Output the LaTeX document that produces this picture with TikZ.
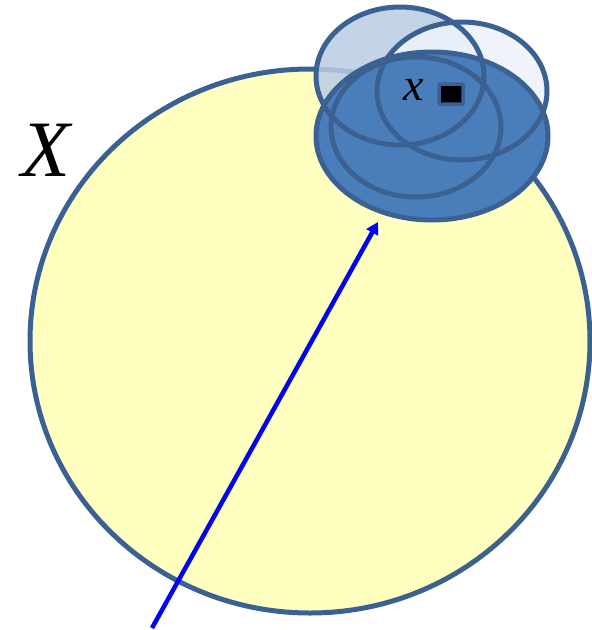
\documentclass[tikz,border=0pt]{standalone}
\usepackage{fontspec}
\setmainfont{Liberation Serif}
\usetikzlibrary{arrows.meta}
\definecolor{edge}{HTML}{3B6193}
\definecolor{yel}{HTML}{FFFFC0}
\definecolor{dblue}{HTML}{4A7EBB}
\definecolor{lblue}{HTML}{B9CDE5}
\definecolor{vlblue}{HTML}{EEF3FA}
\tikzset{outl/.style={draw=edge,line width=5pt}}
\begin{document}
\begin{tikzpicture}[x=1pt,y=-1pt]
\useasboundingbox (0,0) rectangle (592,630);
\fill[yel] (310,341) ellipse [x radius=280,y radius=272];
\draw[outl] (310,341) ellipse [x radius=280,y radius=272];
\fill[lblue,fill opacity=0.85] (400,76) ellipse [x radius=84,y radius=69];
\fill[vlblue,fill opacity=0.9] (462,91) ellipse [x radius=85,y radius=69];
\fill[dblue] (432,136) ellipse [x radius=116,y radius=84];
\draw[outl] (400,76) ellipse [x radius=84,y radius=69];
\draw[outl] (462,91) ellipse [x radius=85,y radius=69];
\draw[outl] (432,136) ellipse [x radius=116,y radius=84];
\draw[outl] (416,127) ellipse [x radius=85,y radius=70];
\node[draw=edge,line width=3.5pt,fill=black,rounded corners=1pt,minimum width=24pt,minimum height=20pt,inner sep=0] (pt) at (451,94) {};
\node[font=\itshape\fontsize{46}{46}\selectfont,inner sep=0] (xl) at (414,90) {x};
\node[font=\itshape\fontsize{80}{80}\selectfont,inner sep=0] (XL) at (46,150) {X};
\coordinate (s) at (152,628);
\coordinate (t) at (378,222);
\draw[blue,line width=4.5pt,-{Triangle[length=12pt,width=13pt]}] (s) -- (t);
\end{tikzpicture}
\end{document}
